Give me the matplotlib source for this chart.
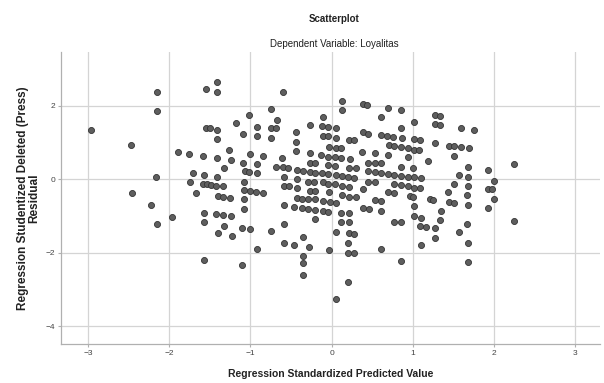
import matplotlib
matplotlib.use("Agg")
import matplotlib.pyplot as plt

plt.rcParams['font.family'] = ['Liberation Sans', 'DejaVu Sans']

# ---------- data ----------
# regression standardized predicted value
pred_left = [-2.96, -2.47, -2.15, -2.15, -2.16, -2.46, -2.22, -2.15]
resid_left = [1.35, 0.92, 2.37, 1.85, 0.05, -0.37, -0.71, -1.23]

pred_b = [-1.41, -1.55, -1.41, -1.02, -1.18, -0.92, -0.92, -1.54, -1.50, -1.41,
          -1.41, -1.09, -1.89, -1.75, -1.58, -1.41, -1.26, -1.24, -1.01, -0.84,
          -1.09, -1.32, -0.92, -1.71, -1.57, -1.41, -1.07, -1.02, -0.92, -1.74,
          -1.58, -1.53, -1.48, -1.42, -1.34, -1.08, -1.08, -1.01, -0.93, -0.84,
          -1.67, -1.40, -1.34, -1.25, -1.08, -1.08, -1.97, -1.57, -1.57, -1.42,
          -1.34, -1.24, -1.32, -1.10, -1.00, -1.40, -1.23, -0.92, -1.57, -1.10]
resid_b = [2.64, 2.44, 2.38, 1.74, 1.53, 1.42, 1.17, 1.40, 1.40, 1.35,
           1.09, 1.22, 0.73, 0.68, 0.63, 0.58, 0.79, 0.51, 0.68, 0.63,
           0.45, 0.29, 0.40, 0.16, 0.11, 0.06, 0.22, 0.18, 0.16, -0.09,
           -0.14, -0.14, -0.16, -0.18, -0.19, -0.07, -0.30, -0.33, -0.35, -0.38,
           -0.37, -0.45, -0.48, -0.51, -0.55, -0.82, -1.04, -0.92, -1.16, -0.96,
           -0.98, -1.01, -1.27, -1.33, -1.36, -1.48, -1.54, -1.89, -2.20, -2.34]

pred_c = [-0.60, 0.13, 0.13, -0.75, -0.67, -0.74, -0.68, -0.75, -0.11, -0.26,
          -0.12, -0.05, 0.05, -0.44, -0.11, -0.05, 0.06, -0.44, 0.22, 0.28,
          -0.03, 0.05, 0.12, -0.44, -0.27, -0.13, -0.05, 0.04, 0.12, 0.23,
          0.37, -0.61, -0.27, -0.20, -0.04, 0.04, 0.22, 0.30, -0.68, -0.60,
          -0.54, -0.43, -0.35, -0.27, -0.20, -0.12, -0.04, 0.05, 0.13, 0.20,
          0.28, -0.59, -0.43, -0.29, -0.22, -0.11, -0.05, 0.04, 0.13, -0.59,
          -0.52, -0.43, 0.22, -0.27, -0.20, -0.03, 0.13, 0.22, 0.30, -0.43,
          -0.37, -0.29, -0.21, -0.11, -0.02, 0.05, -0.59, -0.46, -0.37, -0.29,
          -0.21, -0.11, -0.05, 0.12, 0.22, -0.20, 0.12, 0.22, -0.59, -0.75,
          0.05, 0.22, 0.28, -0.35, -0.58, -0.46, -0.28, 0.20, -0.03, 0.20,
          0.28, -0.35, -0.35, -0.35, 0.20, 0.05]
resid_c = [2.38, 2.12, 1.87, 1.90, 1.62, 1.38, 1.38, 1.12, 1.69, 1.47,
           1.44, 1.41, 1.38, 1.29, 1.18, 1.16, 1.11, 1.01, 1.06, 1.06,
           0.88, 0.86, 0.84, 0.76, 0.70, 0.65, 0.61, 0.61, 0.58, 0.56,
           0.74, 0.58, 0.45, 0.43, 0.38, 0.35, 0.31, 0.31, 0.33, 0.32,
           0.30, 0.24, 0.23, 0.18, 0.17, 0.16, 0.13, 0.11, 0.09, 0.06,
           0.04, 0.06, 0.00, -0.07, -0.07, -0.09, -0.12, -0.14, -0.18, -0.18,
           -0.20, -0.25, -0.21, -0.33, -0.33, -0.36, -0.44, -0.48, -0.48, -0.51,
           -0.53, -0.54, -0.55, -0.60, -0.63, -0.66, -0.71, -0.75, -0.78, -0.82,
           -0.84, -0.87, -0.89, -0.93, -0.93, -1.09, -1.16, -1.18, -1.23, -1.41,
           -1.43, -1.48, -1.50, -1.57, -1.74, -1.80, -1.84, -1.75, -1.93, -2.01,
           -2.02, -2.09, -2.29, -2.61, -2.81, -3.27]

pred_d = [0.39, 0.43, 0.70, 0.86, 0.61, 1.27, 1.33, 1.02, 1.27, 1.33,
          0.86, 0.39, 0.45, 0.61, 0.68, 0.75, 0.87, 1.01, 1.09, 1.27,
          1.45, 1.51, 0.71, 0.77, 0.86, 0.94, 1.01, 1.08, 0.54, 0.69,
          0.94, 1.50, 1.19, 0.45, 0.54, 0.61, 0.86, 1.00, 0.45, 0.53,
          0.61, 0.69, 0.77, 0.86, 0.94, 1.02, 1.10, 1.57, 0.45, 0.53,
          0.77, 0.86, 0.94, 1.01, 1.09, 0.39, 1.43, 0.69, 0.77, 0.96,
          1.00, 0.53, 0.61, 1.21, 1.25, 1.45, 1.51, 1.02, 0.39, 0.46,
          0.61, 1.35, 1.02, 1.10, 1.34, 0.77, 0.86, 1.09, 1.16, 1.27,
          1.57, 1.27, 1.10, 0.61, 0.86]
resid_d = [2.04, 2.01, 1.94, 1.88, 1.70, 1.74, 1.72, 1.56, 1.49, 1.47,
           1.38, 1.27, 1.24, 1.20, 1.18, 1.15, 1.11, 1.08, 1.06, 0.97,
           0.91, 0.90, 0.93, 0.90, 0.88, 0.85, 0.79, 0.78, 0.70, 0.65,
           0.59, 0.63, 0.49, 0.45, 0.43, 0.43, 0.33, 0.31, 0.22, 0.18,
           0.16, 0.13, 0.11, 0.09, 0.07, 0.05, 0.04, 0.11, -0.07, -0.09,
           -0.14, -0.16, -0.19, -0.24, -0.25, -0.27, -0.36, -0.36, -0.39, -0.46,
           -0.48, -0.57, -0.60, -0.55, -0.57, -0.63, -0.65, -0.73, -0.78, -0.82,
           -0.87, -0.86, -1.00, -1.05, -1.11, -1.18, -1.18, -1.27, -1.30, -1.34,
           -1.43, -1.60, -1.80, -1.89, -2.23]

pred_right = [1.59, 1.75, 1.59, 1.69, 1.68, 1.92, 1.68, 2.00, 1.51, 1.68,
              1.92, 1.97, 1.66, 2.00, 1.68, 1.92, 2.24, 2.24, 1.66, 1.68, 1.68]
resid_right = [1.40, 1.33, 0.88, 0.84, 0.33, 0.24, 0.06, -0.05, -0.12, -0.18,
               -0.27, -0.28, -0.44, -0.55, -0.71, -0.78, 0.40, -1.14, -1.21, -1.73, -2.25]

x_ticks = [-3, -2, -1, 0, 1, 2, 3]
y_ticks = [-4, -2, 0, 2]

pred = pred_left + pred_b + pred_c + pred_d + pred_right
resid = resid_left + resid_b + resid_c + resid_d + resid_right

# ---------- figure ----------
fig = plt.figure(figsize=(6.04, 3.83), dpi=100)
ax = fig.add_axes([0.101, 0.1018, 0.892, 0.7624])

ax.set_xlim(-3.33, 3.30)
ax.set_ylim(-4.49, 3.46)
ax.set_xticks(x_ticks)
ax.set_yticks(y_ticks)
ax.grid(True, color='#d4d4d4', linewidth=0.9)
ax.set_axisbelow(True)

for side in ('top', 'right'):
    ax.spines[side].set_visible(False)
for side in ('left', 'bottom'):
    ax.spines[side].set_color('#b0b0b0')
    ax.spines[side].set_linewidth(0.9)

ax.tick_params(axis='both', length=2, width=0.8, color='#b0b0b0',
               labelsize=6, labelcolor='#444444', pad=2)

ax.scatter(pred, resid, s=19, facecolor='#5e5e5e', edgecolor='#333333',
           linewidth=0.6, zorder=3)

ax.set_xlabel('Regression Standardized Predicted Value', fontsize=7.5,
              fontweight='bold', color='#222222', labelpad=9)
ax.set_ylabel('Regression Studentized Deleted (Press)\nResidual', fontsize=8.5,
              fontweight='bold', color='#222222', labelpad=4, linespacing=0.95)

fig.text(0.553, 0.951, 'Scatterplot', ha='center', va='center',
         fontsize=7, fontweight='bold', color='#222222')
fig.text(0.553, 0.886, 'Dependent Variable: Loyalitas', ha='center', va='center',
         fontsize=7, color='#222222')

fig.savefig('out.png', dpi=100)
